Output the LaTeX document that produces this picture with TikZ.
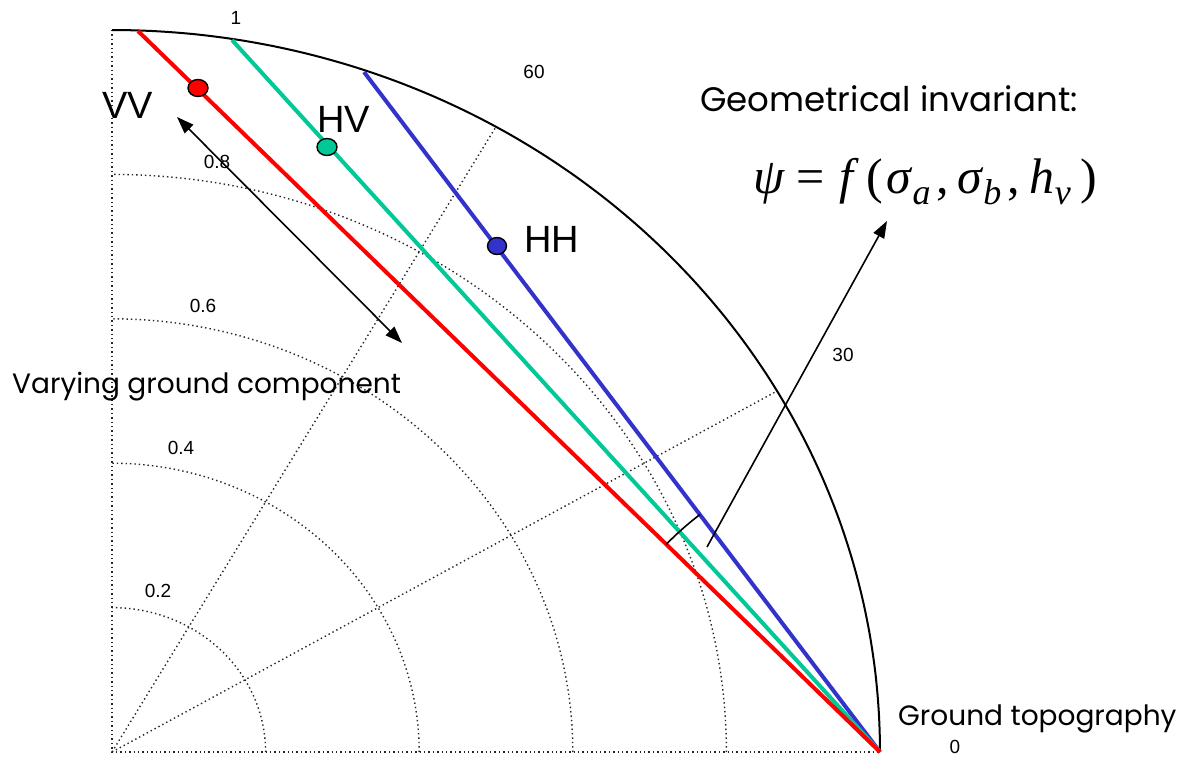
\documentclass[tikz,border=0pt]{standalone}
\usepackage{fontspec}
\setmainfont{Liberation Sans}
\newfontfamily\comicfont{Poppins}
\newfontfamily\serfont{Liberation Serif}
\usetikzlibrary{arrows.meta,shapes.geometric,calc}
\definecolor{vvred}{RGB}{255,0,0}
\definecolor{hvgreen}{RGB}{0,200,150}
\definecolor{hhblue}{RGB}{51,51,204}
\newcommand\sbx[1]{\raisebox{-11pt}{\fontsize{36}{40}\selectfont\textit{#1}}}
\begin{document}
\begin{tikzpicture}[x=1pt,y=-1pt,
 grid/.style={black!85,line width=1.4pt,dash pattern=on 1.4pt off 3pt},
 polline/.style={line width=4pt},
 dotmark/.style={ellipse,draw=black,line width=1.4pt,minimum width=20pt,minimum height=17pt,inner sep=0pt},
 tick/.style={font=\fontsize{19}{21}\selectfont,inner sep=0pt},
 comic/.style={font=\comicfont\fontsize{28}{32}\selectfont,anchor=base west,inner sep=0pt},
 pol/.style={font=\fontsize{38}{44}\selectfont,anchor=base west,inner sep=0pt},
 arr/.style={line width=1.6pt,-{Triangle[length=17pt,width=12pt]}},
 darr/.style={line width=1.6pt,{Triangle[length=17pt,width=12pt]}-{Triangle[length=17pt,width=12pt]}},
]
\useasboundingbox (0,0) rectangle (1187,760);
\clip (0,0) rectangle (1187,760);
\fill[white] (0,0) rectangle (1187,760);

% key points
\coordinate (O) at (112,752);
\coordinate (Op) at (880,752);
\coordinate (Top) at (112,30);
\coordinate (R) at (138,31);
\coordinate (G) at (232,40);
\coordinate (B) at (364,72);
\coordinate (S30) at ({112+768*cos(30)},{752-722*sin(30)});
\coordinate (S60) at ({112+768*cos(60)},{752-722*sin(60)});

% polar grid
\draw[grid] (Top) -- (O) -- (Op);
\foreach \r in {0.2,0.4,0.6,0.8}{
  \draw[grid] plot[domain=0:90,samples=90,smooth] ({112+768*\r*cos(\x)},{752-722*\r*sin(\x)});
}
\draw[grid] (O) -- (S30);
\draw[grid] (O) -- (S60);
\draw[line width=2pt] plot[domain=0:90,samples=120,smooth] ({112+768*cos(\x)},{752-722*sin(\x)});

% tick labels
\node[tick] (t1) at (236,18) {1};
\node[tick] (t60) at (534,72) {60};
\node[tick] (t30) at (843,355) {30};
\node[tick] (t0) at (955,747) {0};
\node[tick] (t08) at (217,162) {0.8};
\node[tick] (t06) at (203,306) {0.6};
\node[tick] (t04) at (181,448) {0.4};
\node[tick] (t02) at (158,591) {0.2};

% polarisation lines
\draw[polline,hhblue] (B) -- (Op);
\draw[polline,hvgreen] (G) -- (Op);
\draw[polline,vvred] (R) -- (Op);

% dots
\node[dotmark,fill=vvred] (dVV) at (198,88) {};
\node[dotmark,fill=hvgreen] (dHV) at (327,147) {};
\node[dotmark,fill=hhblue,minimum width=19pt] (dHH) at (497,246) {};

% polarisation labels
\node[pol] (lVV) at (102,118) {VV};
\node[pol] (lHV) at (317,132) {HV};
\node[pol] (lHH) at (524,252) {HH};

% angle arc
\draw[line width=1.6pt] plot[domain=224.2:232.8,samples=20] ({880+298*cos(\x)},{752+298*sin(\x)});

% arrows
\coordinate (a1) at (177,117);
\coordinate (a2) at (402,343);
\draw[darr] (a1) -- (a2);
\coordinate (g1) at (707,547);
\coordinate (g2) at (887,221);
\draw[arr] (g1) -- (g2);

% texts
\node[comic,font=\comicfont\fontsize{34}{38}\selectfont] (geo) at (700,112) {Geometrical invariant:};
\node[anchor=base west,inner sep=0pt,font=\serfont\fontsize{50}{56}\selectfont] (formula) at (753,193)
  {\textit{ψ}\kern12pt=\kern14pt\textit{f}\kern8pt(\kern3pt\textit{σ}\sbx{a}\kern6pt,\kern8pt\textit{σ}\sbx{b}\kern6pt,\kern10pt\textit{h}\sbx{v}\kern10pt)};
\node[comic] (vary) at (12,393) {Varying ground component};
\node[comic] (ground) at (898,725) {Ground topography};
\end{tikzpicture}
\end{document}
